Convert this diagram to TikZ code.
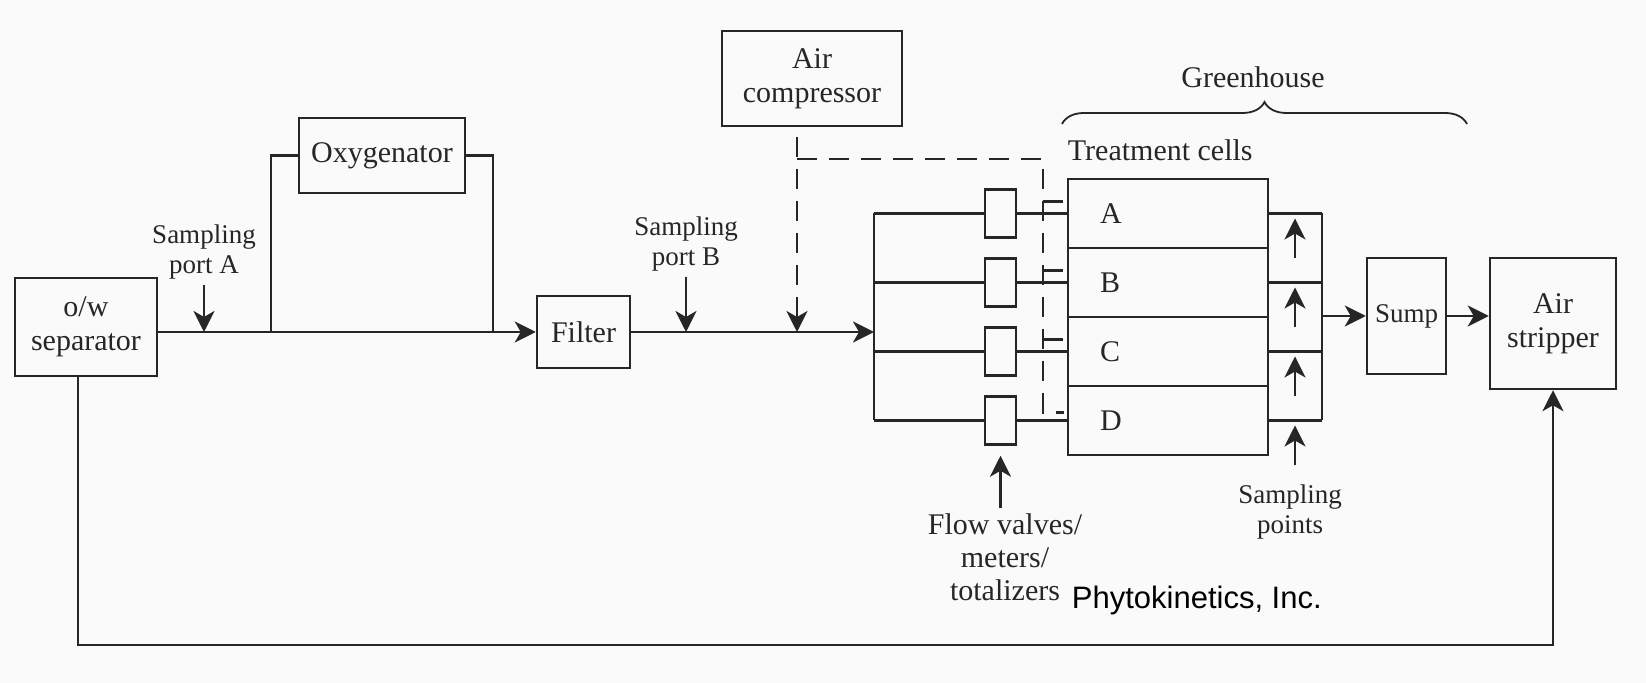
\documentclass[tikz,border=0pt]{standalone}
\usepackage{fontspec}
\setmainfont{Liberation Serif}
\newfontfamily\creditfont{Liberation Sans}
\usetikzlibrary{positioning,arrows.meta,calc,decorations.pathreplacing}

\begin{document}
\begin{tikzpicture}[
  x=0.5pt, y=-0.5pt,
  color=black!85, line width=1.25pt,
  font=\fontsize{15}{17}\selectfont,
  unitbox/.style={rectangle, draw, inner sep=0pt, align=center},
  valve/.style={rectangle, draw, inner sep=0pt, minimum width=15.5pt, minimum height=24pt},
  cell/.style={rectangle, draw, inner ysep=0pt, inner xsep=16pt, minimum width=100pt,
               minimum height=34.5pt, text width=68pt, align=left},
  note/.style={align=center, inner sep=2pt, font=\fontsize{13.5}{15}\selectfont},
  arr/.style={-{Stealth[length=10.5pt, width=10.5pt, inset=3pt]}},
  air/.style={dash pattern=on 10pt off 6pt}
]
\fill[black!2] (0,0) rectangle (1646,683);
\useasboundingbox (0,0) rectangle (1646,683);

\node[unitbox, minimum width=71pt, minimum height=49pt] (ows) at (86,327) {o/w\\separator};
\node[unitbox, minimum width=83pt, minimum height=37.5pt] (oxy) at (382,155.5) {Oxygenator};
\node[unitbox, minimum width=46.5pt, minimum height=36pt] (filter) at (583.5,332) {Filter};
\node[unitbox, minimum width=90pt, minimum height=47.5pt] (comp) at (812,78.5) {Air\\compressor};
\node[unitbox, minimum width=39.5pt, minimum height=58pt, font=\fontsize{13.5}{15}\selectfont] (sump) at (1406.5,316) {Sump};
\node[unitbox, minimum width=63pt, minimum height=65.5pt] (strip) at (1553,323.5) {Air\\stripper};

\foreach \c/\y in {A/213.5,B/282.5,C/351.5,D/420.5}{
  \node[cell] (cell\c) at (1168,\y) {\c};
  \node[valve] (valve\c) at (1000.5,\y) {};
}

\node[note, anchor=south] (sampA) at (204,285) {Sampling\\port A};
\node[note, anchor=south] (sampB) at (686,277) {Sampling\\port B};
\node[note, anchor=north] (smppts) at (1290,480) {Sampling\\points};
\node[anchor=north, align=center, inner sep=2pt, font=\fontsize{15}{16.5}\selectfont] (fvm) at (1005,508)
  {Flow valves/\\meters/\\totalizers};
\node[anchor=west] (tclbl) at (1060,150) {Treatment cells};
\node (ghlbl) at (1253,77) {Greenhouse};
\node[anchor=west, text=black, font=\creditfont\fontsize{15.5}{18}\selectfont] (credit) at (1064,600) {Phytokinetics, Inc.};

\coordinate (byL) at (271,332);
\coordinate (byR) at (493,332);
\coordinate (airin) at (797,332);
\coordinate (airR) at (1043,159);
\coordinate (man) at (874,332);
\coordinate (coll) at (1322,316);
\coordinate (smp) at (1295,316);
\coordinate (ret) at (78,645);
\coordinate (ghL) at (1062,124);
\coordinate (ghR) at (1467,124);

\draw[arr] (ows.east |- filter.west) -- (filter.west);
\draw (byL) |- (oxy.west);
\draw (oxy.east) -| (byR);
\draw[arr] (sampA.south) -- (sampA.south |- filter.west);
\draw[arr] (filter.east) -- (man);
\draw[arr] (sampB.south) -- (sampB.south |- filter.east);
\draw[air, arr, shorten <=5pt] (comp.south -| airin) -- (airin);
\draw[air] (airin |- airR) -- (airR) -- ($(airR |- cellD.west)+(0,-8)$) -- ($(cellD.west)+(-3,-8)$);
\foreach \c in {A,B,C}
  \draw[air] ($(airR |- cell\c.west)+(0,-12)$) -- ($(cell\c.west)+(-3,-12)$);

\draw (man |- valveA.west) -- (man |- valveD.west);
\draw (coll |- cellA.east) -- (coll |- cellD.east);
\foreach \c in {A,B,C,D}{
  \draw (man |- valve\c.west) -- (valve\c.west);
  \draw (valve\c.east) -- (cell\c.west);
  \draw (cell\c.east) -- (coll |- cell\c.east);
  \draw[arr] ($(smp |- cell\c.east)+(0,45)$) -- ($(smp |- cell\c.east)+(0,5)$);
}
\draw[arr] (coll) -- (sump.west);
\draw[arr] (sump.east) -- (sump.east -| strip.west);
\draw[arr] (fvm.north -| valveD) -- ([yshift=-5pt]valveD.south);
\draw[arr] (ows.south -| ret) -- (ret) -| (strip.south);

\draw[decorate, decoration={brace, amplitude=11pt}, line width=0.9pt] (ghL) -- (ghR);
\end{tikzpicture}
\end{document}
